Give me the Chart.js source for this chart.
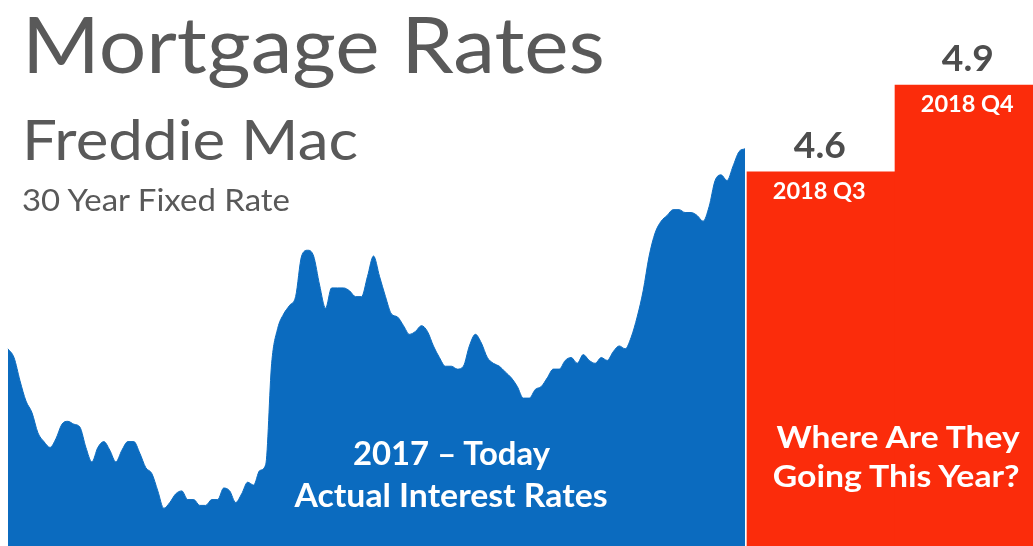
<!DOCTYPE html>
<html>
<head>
<meta charset="utf-8">
<script src="https://cdn.jsdelivr.net/npm/chart.js@4.4.1/dist/chart.umd.min.js"></script>
<style>
  html, body { margin: 0; padding: 0; background: #ffffff; }
  #wrap { position: relative; width: 1033px; height: 546px; overflow: hidden; }
  #wrap canvas { position: absolute; left: 0; top: 0; }
  .lbl { position: absolute; white-space: nowrap; line-height: 1; }
</style>
</head>
<body>
<div id="wrap">
  <canvas id="chart" width="1033" height="546"></canvas>
  <div class="lbl" id="title">Mortgage Rates</div>
  <div class="lbl" id="sub1">Freddie Mac</div>
  <div class="lbl" id="sub2">30 Year Fixed Rate</div>
  <div class="lbl" id="act1">2017 – Today</div>
  <div class="lbl" id="act2">Actual Interest Rates</div>
  <div class="lbl" id="q1">Where Are They</div>
  <div class="lbl" id="q2">Going This Year?</div>
  <div class="lbl" id="v0"></div>
  <div class="lbl" id="v1"></div>
  <div class="lbl" id="c0"></div>
  <div class="lbl" id="c1"></div>
</div>
<script>
// ---- data ----
const weeklyRates = [
  3.99,3.96,3.88,3.81,3.77,3.70,3.67,3.65,3.68,3.73,3.74,3.73,3.72,3.65,3.60,3.65,
  3.67,3.64,3.60,3.64,3.67,3.67,3.63,3.58,3.56,3.50,3.44,3.46,3.49,3.50,3.47,3.47,
  3.45,3.45,3.47,3.47,3.51,3.50,3.46,3.49,3.53,3.52,3.57,3.59,3.94,4.06,4.11,4.14,
  4.17,4.31,4.33,4.31,4.21,4.13,4.20,4.20,4.20,4.19,4.17,4.17,4.24,4.31,4.24,4.17,
  4.11,4.10,4.07,4.04,4.05,4.07,4.05,4.00,3.96,3.93,3.93,3.92,3.93,4.00,4.04,4.01,
  3.96,3.94,3.93,3.91,3.89,3.86,3.82,3.82,3.85,3.86,3.89,3.92,3.92,3.95,3.96,3.94,
  3.97,3.95,3.94,3.96,3.95,3.98,4.00,3.99,4.03,4.10,4.19,4.31,4.39,4.43,4.45,4.47,
  4.47,4.46,4.46,4.45,4.43,4.48,4.57,4.59,4.57,4.62,4.67,4.68
];
const quarterLabels = ['2018 Q3', '2018 Q4'];
const quarterForecast = [4.6, 4.9];

// ---- styling ----
const BLUE = '#0b6bbf';
const RED = '#fb2c0b';
const GREY = '#595959';
const DARK = '#4d4d4d';
const FAMILY = "Lato, 'Open Sans', sans-serif";

const lastIdx = weeklyRates.length - 1;
const quarterPos = quarterLabels.map((_, k) => lastIdx + 0.33 + 24.7 * (k + 0.5));

const chart = new Chart(document.getElementById('chart'), {
  type: 'line',
  data: {
    datasets: [
      {
        type: 'line',
        label: 'Actual',
        data: weeklyRates.map((v, i) => ({ x: i, y: v })),
        borderColor: BLUE,
        borderWidth: 1,
        backgroundColor: BLUE,
        fill: 'start',
        pointRadius: 0,
        cubicInterpolationMode: 'monotone'
      },
      {
        type: 'bar',
        label: 'Forecast',
        data: quarterForecast.map((v, k) => ({ x: quarterPos[k], y: v })),
        backgroundColor: RED,
        borderWidth: 0,
        barThickness: 148,
        grouped: false
      }
    ]
  },
  options: {
    responsive: false,
    animation: false,
    events: [],
    layout: { padding: 0 },
    plugins: { legend: { display: false }, tooltip: { enabled: false }, title: { display: false } },
    scales: {
      x: { type: 'linear', min: -1.335, max: 171.06, offset: false, display: false },
      y: { type: 'linear', min: 3.31, max: 5.193, display: false }
    }
  }
});

// ---- text placement (real HTML text) ----
const mctx = document.createElement('canvas').getContext('2d');
function place(el, s) {
  const wt = s.bold ? 700 : 400;
  mctx.font = wt + ' 100px ' + FAMILY;
  const capR = mctx.measureText('H').actualBoundingBoxAscent / 100;
  const fs = s.cap / capR;
  el.style.fontFamily = FAMILY;
  el.style.fontWeight = wt;
  el.style.fontSize = fs + 'px';
  el.style.color = s.color;
  el.style.left = '0px';
  el.style.top = '0px';
  el.style.transform = 'none';
  const mk = document.createElement('span');
  mk.style.cssText = 'display:inline-block;width:0;height:0;';
  el.appendChild(mk);
  const r = el.getBoundingClientRect();
  const baseOff = mk.getBoundingClientRect().top - r.top;
  const w = r.width;
  const sx = s.width ? s.width / w : 1;
  el.style.top = (s.baseline - baseOff) + 'px';
  if (s.center !== undefined) {
    el.style.left = (s.center - w / 2) + 'px';
    el.style.transformOrigin = '50% 0';
  } else {
    el.style.left = s.left + 'px';
    el.style.transformOrigin = '0 0';
  }
  el.style.transform = 'scaleX(' + sx + ')';
}

place(document.getElementById('title'), { left: 22, baseline: 73, cap: 57, width: 583, color: GREY });
place(document.getElementById('sub1'), { left: 22, baseline: 160, cap: 41, width: 336, color: GREY });
place(document.getElementById('sub2'), { left: 22, baseline: 211, cap: 22, width: 268, color: GREY });
place(document.getElementById('act1'), { center: 451.5, baseline: 465, cap: 23, width: 197, color: '#ffffff', bold: true });
place(document.getElementById('act2'), { center: 451.5, baseline: 507, cap: 23, width: 313, color: '#ffffff', bold: true });
place(document.getElementById('q1'), { center: 898, baseline: 448, cap: 22, width: 243, color: '#ffffff', bold: true });
place(document.getElementById('q2'), { center: 896.5, baseline: 487, cap: 22, width: 247, color: '#ffffff', bold: true });

const barMeta = chart.getDatasetMeta(1);
barMeta.data.forEach((bar, k) => {
  const v = document.getElementById('v' + k);
  v.textContent = quarterForecast[k].toFixed(1);
  place(v, { center: bar.x - 1, baseline: bar.y - 13.5, cap: 27, width: 52, color: DARK, bold: true });
  const c = document.getElementById('c' + k);
  c.textContent = quarterLabels[k];
  place(c, { center: bar.x - 2, baseline: bar.y + 27.5, cap: 16, width: 93, color: '#ffffff', bold: true });
});
</script>
</body>
</html>
